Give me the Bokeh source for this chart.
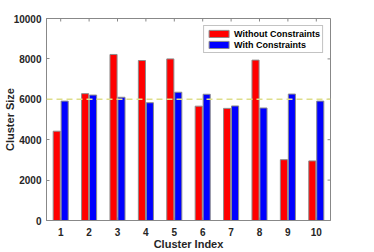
from bokeh.plotting import figure
from bokeh.models import ColumnDataSource, Span, FixedTicker, Legend, LegendItem
from bokeh.embed import file_html
from bokeh.resources import INLINE

clusters = [1, 2, 3, 4, 5, 6, 7, 8, 9, 10]
without_constraints = [4420, 6280, 8220, 7920, 8000, 5660, 5550, 7940, 3010, 2950]
with_constraints = [5910, 6210, 6100, 5830, 6350, 6250, 5670, 5570, 6260, 5910]
target_size = 6000
y_ticks = [0, 2000, 4000, 6000, 8000, 10000]
x_min, x_max = 0.5, 10.5
y_min, y_max = 0, 10000

offset = 0.14
bw = 0.25

src = ColumnDataSource(dict(
    xr=[c - offset for c in clusters],
    xb=[c + offset for c in clusters],
    r=without_constraints,
    b=with_constraints,
))

p = figure(width=358, height=252, output_backend="svg", toolbar_location=None,
           x_range=(x_min, x_max), y_range=(y_min, y_max),
           min_border_left=41, min_border_right=28, min_border_top=18, min_border_bottom=23)
p.background_fill_color = "white"
p.border_fill_color = "white"
p.outline_line_color = "#888888"
p.outline_line_width = 1
p.grid.visible = False

rr = p.vbar(x="xr", top="r", width=bw, source=src, fill_color="#ff0000",
            line_color="#8c8c8c", line_width=1)
rb = p.vbar(x="xb", top="b", width=bw, source=src, fill_color="#0000ff",
            line_color="#8c8c8c", line_width=1)

span = Span(location=target_size, dimension="width", line_color="#dede8a",
            line_width=1.5, line_dash="6 4")
p.add_layout(span)

# mirror ticks on top and right edges (box style)
tick_dx = (x_max - x_min) * 3 / 289
tick_dy = (y_max - y_min) * 3 / 202
p.segment(x0=clusters, y0=[y_max] * len(clusters), x1=clusters,
          y1=[y_max - tick_dy] * len(clusters), line_color="#888888", line_width=1)
p.segment(x0=[x_max] * len(y_ticks), y0=y_ticks, x1=[x_max - tick_dx] * len(y_ticks),
          y1=y_ticks, line_color="#888888", line_width=1)

for ax in [p.xaxis[0], p.yaxis[0]]:
    ax.axis_line_color = "#888888"
    ax.major_tick_line_color = "#888888"
    ax.major_tick_in = 3
    ax.major_tick_out = 0
    ax.minor_tick_line_color = None
    ax.major_label_text_font = "Liberation Sans"
    ax.major_label_text_font_style = "bold"
    ax.major_label_text_font_size = "10px"
    ax.major_label_text_color = "#262626"
    ax.axis_label_text_font = "Liberation Sans"
    ax.axis_label_text_font_style = "bold"
    ax.axis_label_text_font_size = "11px"
    ax.axis_label_text_color = "#262626"

p.xaxis[0].ticker = FixedTicker(ticks=clusters)
p.yaxis[0].ticker = FixedTicker(ticks=y_ticks)
p.xaxis[0].axis_label = "Cluster Index"
p.yaxis[0].axis_label = "Cluster Size"
p.xaxis[0].major_label_standoff = 7
p.xaxis[0].axis_label_standoff = -1
p.yaxis[0].major_label_standoff = 5
p.yaxis[0].axis_label_standoff = -5

legend = Legend(items=[LegendItem(label="Without Constraints", renderers=[rr]),
                       LegendItem(label="With Constraints", renderers=[rb])],
                location="top_right")
legend.margin = 7
legend.padding = 2
legend.spacing = 0
legend.glyph_width = 25
legend.glyph_height = 9
legend.label_height = 11
legend.label_standoff = 3
legend.label_text_font = "Liberation Sans"
legend.label_text_font_style = "bold"
legend.label_text_font_size = "9px"
legend.label_text_color = "#000000"
legend.border_line_color = "#888888"
legend.border_line_width = 1
legend.background_fill_alpha = 1
p.add_layout(legend, "center")

open("out.html", "w").write(file_html(p, INLINE))
